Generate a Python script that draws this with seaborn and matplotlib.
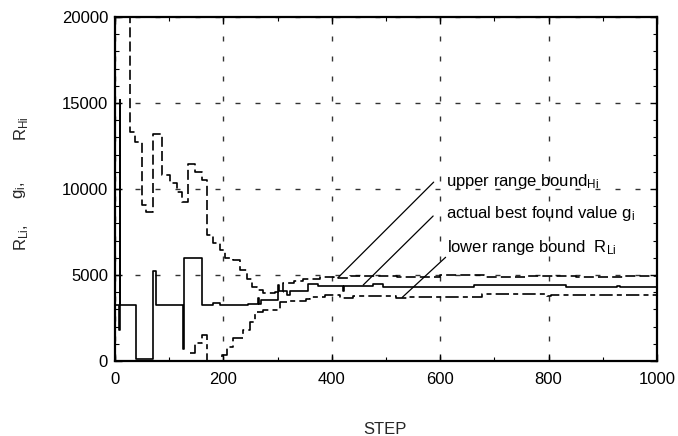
import matplotlib
matplotlib.use("Agg")
import matplotlib.pyplot as plt
from matplotlib.ticker import MultipleLocator
import seaborn as sns

# actual best found value g_i (step curve)
g_steps = [0, 7, 9, 10, 39, 71, 76, 125, 127, 161, 181, 194, 246, 264, 266, 270,
           300, 302, 317, 322, 356, 374, 420, 423, 476, 494, 663, 833, 927, 931, 1000]
g_vals = [3250, 1800, 15200, 3250, 100, 5250, 3250, 700, 6000, 3250, 3350, 3250, 3300,
          3650, 3300, 3550, 4400, 4050, 3850, 4050, 4450, 4350, 4050, 4350, 4450, 4320,
          4400, 4300, 4380, 4300, 4300]

# upper range bound R_Hi
hi_steps = [28, 28, 37, 50, 58, 71, 86, 101, 114, 123, 135, 147, 160, 170, 181, 194,
            203, 218, 230, 243, 252, 262, 273, 295, 310, 330, 347, 378, 405, 433, 520,
            600, 680, 760, 850, 940, 1000]
hi_vals = [30000, 13300, 12750, 9050, 8650, 13200, 10800, 10330, 9850, 9260, 11450,
           11000, 10520, 7330, 6840, 6450, 5970, 5870, 5290, 4770, 4320, 4100, 3930,
           4030, 4510, 4650, 4740, 4900, 4840, 4950, 4900, 4980, 4880, 4950, 4900, 4950,
           4950]

# lower range bound R_Li
lo_steps = [138, 147, 160, 169, 197, 206, 218, 236, 249, 258, 273, 304, 322, 353, 360,
            387, 415, 440, 519, 540, 600, 678, 798, 805, 1000]
lo_vals = [450, 1050, 1510, 0, 350, 830, 1320, 1800, 2290, 2870, 2960, 3450, 3500, 3590,
           3740, 3840, 3650, 3780, 3650, 3740, 3740, 3900, 3800, 3850, 3850]

x_ticks = [0, 200, 400, 600, 800, 1000]
y_ticks = [0, 5000, 10000, 15000, 20000]

# annotation labels: (text, text position, line start, curve point)
labels = [
    ("upper range bound$_{Hi}$", (610, 10170), (588, 10400), (411, 4830)),
    ("actual best found value g$_i$", (610, 8300), (587, 8430), (458, 4420)),
    ("lower range bound  R$_{Li}$", (612, 6360), (610, 6030), (530, 3700)),
]

sns.set_theme(style="ticks")
plt.rcParams["font.family"] = ["Liberation Sans", "DejaVu Sans"]
plt.rcParams["mathtext.default"] = "regular"

fig = plt.figure(figsize=(6.78, 4.36), dpi=100)
ax = fig.add_axes([0.1696, 0.172, 0.7994, 0.789])

ax.grid(True, which="major", linestyle=(0, (3.6, 10.8)), linewidth=1.0, color="#333333")

sns.lineplot(x=g_steps, y=g_vals, estimator=None, sort=False, drawstyle="steps-post",
             color="black", linewidth=1.2, ax=ax)
sns.lineplot(x=hi_steps, y=hi_vals, estimator=None, sort=False, drawstyle="steps-post",
             color="black", linewidth=1.2, linestyle=(0, (6, 2.5)), ax=ax)
sns.lineplot(x=lo_steps, y=lo_vals, estimator=None, sort=False, drawstyle="steps-post",
             color="black", linewidth=1.2, linestyle=(0, (8, 2.5, 3, 2.5)), ax=ax)

for text, pos, start, end in labels:
    ax.annotate("", xy=end, xytext=start,
                arrowprops=dict(arrowstyle="-", lw=0.9, color="black",
                                shrinkA=0, shrinkB=0))
    ax.text(pos[0], pos[1], text, fontsize=12, ha="left", va="baseline", color="black")

ax.set_xlim(0, 1000)
ax.set_ylim(0, 20000)
ax.set_xticks(x_ticks)
ax.set_yticks(y_ticks)
ax.xaxis.set_minor_locator(MultipleLocator(100))
ax.yaxis.set_minor_locator(MultipleLocator(1000))
ax.tick_params(which="both", direction="in", top=True, right=True, labelsize=12,
               color="black", labelcolor="black")
ax.tick_params(which="major", length=5, width=1.0)
ax.tick_params(which="minor", length=3, width=0.8)
ax.tick_params(axis="x", pad=8)
ax.tick_params(axis="y", pad=5)
for s in ax.spines.values():
    s.set_linewidth(1.6)
    s.set_color("black")

ax.set_xlabel("STEP", fontsize=12)
ax.xaxis.set_label_coords(0.498, -0.178)
ax.set_ylabel("")

fig.text(0.032, 0.454, "R$_{Li}$,", rotation=90, ha="center", va="center", fontsize=12)
fig.text(0.030, 0.564, "g$_i$,", rotation=90, ha="center", va="center", fontsize=12)
fig.text(0.032, 0.704, "R$_{Hi}$", rotation=90, ha="center", va="center", fontsize=12)

fig.savefig("out.png", dpi=100)
